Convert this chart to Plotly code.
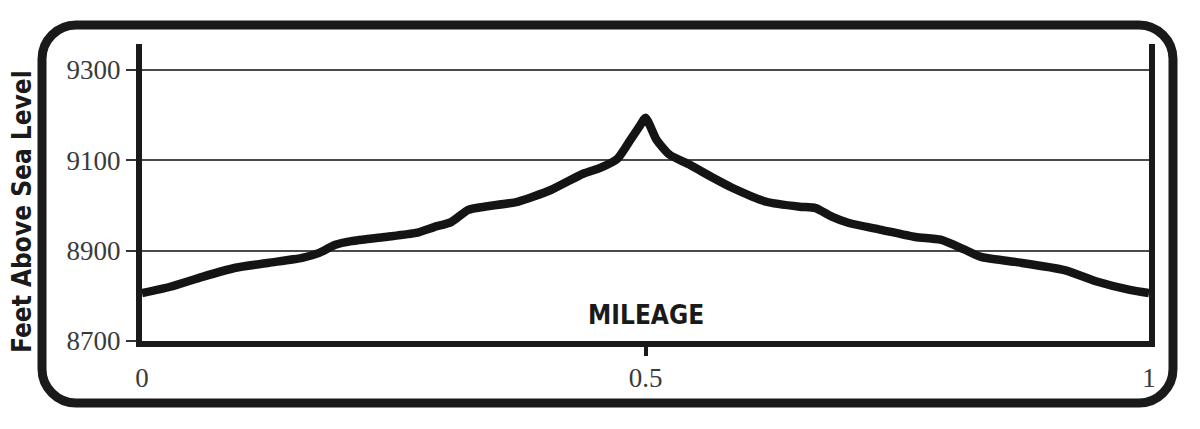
import plotly.graph_objects as go

# ---- data ----
mileage = [0.000, 0.028, 0.060, 0.093, 0.126, 0.159, 0.176, 0.192, 0.208, 0.241,
           0.272, 0.290, 0.307, 0.324, 0.340, 0.373, 0.406, 0.438, 0.455, 0.472,
           0.485, 0.495, 0.500, 0.511, 0.524, 0.544, 0.567, 0.586, 0.620, 0.653,
           0.669, 0.685, 0.702, 0.734, 0.768, 0.793, 0.817, 0.833, 0.867, 0.916,
           0.949, 0.981, 1.000]
elevation = [8806, 8820, 8842, 8862, 8873, 8884, 8895, 8913, 8921, 8930,
             8939, 8952, 8963, 8990, 8997, 9008, 9034, 9070, 9083, 9103,
             9145, 9178, 9194, 9145, 9112, 9090, 9061, 9039, 9008, 8997,
             8994, 8975, 8961, 8946, 8930, 8924, 8902, 8886, 8875, 8857,
             8831, 8813, 8806]

y_ticks = [8700, 8900, 9100, 9300]
y_tick_labels = ["8700", "8900", "9100", "9300"]
x_ticks = [0, 0.5, 1]
x_tick_labels = ["0", "0.5", "1"]

y_title = "Feet Above Sea Level"
x_title = "MILEAGE"

# ---- layout geometry (screen pixels; page body has an 8px margin) ----
W, H = 1200, 429
OFF = 8
PL, PR, PT, PB = 142, 1149, 44, 341          # plot area on screen
L, T = PL - OFF, PT - OFF
R, B = W + OFF - PR, H + OFF - PB
PW = PR - PL
PH = PB - PT


def px(xp):
    return (xp - PL) / PW


def py(yp):
    return (PB - yp) / PH


fig = go.Figure()
fig.add_trace(go.Scatter(
    x=mileage, y=elevation, mode="lines",
    line=dict(color="#141414", width=8.5, shape="spline", smoothing=0.6),
    hoverinfo="skip", showlegend=False,
))
# helper trace on second x axis for the single 0.5 tick
fig.add_trace(go.Scatter(x=[0.5], y=[8700], xaxis="x2", mode="markers",
                         marker=dict(opacity=0), hoverinfo="skip", showlegend=False))

# rounded frame
fl, fr, ft, fb, rad = 42, 1173, 25, 403, 34
k = 0.45


def P(a, b):
    return f"{px(a):.5f},{py(b):.5f}"


path = (
    f"M {P(fl + rad, ft)} L {P(fr - rad, ft)} "
    f"C {P(fr - rad * k, ft)} {P(fr, ft + rad * k)} {P(fr, ft + rad)} "
    f"L {P(fr, fb - rad)} "
    f"C {P(fr, fb - rad * k)} {P(fr - rad * k, fb)} {P(fr - rad, fb)} "
    f"L {P(fl + rad, fb)} "
    f"C {P(fl + rad * k, fb)} {P(fl, fb - rad * k)} {P(fl, fb - rad)} "
    f"L {P(fl, ft + rad)} "
    f"C {P(fl, ft + rad * k)} {P(fl + rad * k, ft)} {P(fl + rad, ft)} Z"
)
fig.add_shape(type="path", path=path, xref="paper", yref="paper",
              line=dict(color="#1a1a1a", width=9), fillcolor="rgba(0,0,0,0)",
              layer="below")

serif = dict(family="Liberation Serif", size=27, color="#3a3a3a")
heavy = "DejaVu Sans Condensed, DejaVu Sans, Liberation Sans, sans-serif"

fig.update_layout(
    width=W, height=H,
    margin=dict(l=L, r=R, t=T, b=B, pad=0),
    paper_bgcolor="white", plot_bgcolor="white",
    xaxis=dict(
        range=[0, 1], tickmode="array", tickvals=x_ticks, ticktext=x_tick_labels,
        ticks="", showgrid=False, zeroline=False,
        showline=True, linewidth=6, linecolor="#1a1a1a",
        tickfont=serif, ticklabelstandoff=8, fixedrange=True,
    ),
    xaxis2=dict(
        range=[0, 1], overlaying="x", side="bottom", tickmode="array",
        tickvals=[0.5], ticks="outside", ticklen=14, tickwidth=4,
        tickcolor="#1a1a1a", showticklabels=False, showgrid=False,
        zeroline=False, showline=False,
    ),
    yaxis=dict(
        range=[8700, 9357], tickmode="array", tickvals=y_ticks, ticktext=y_tick_labels,
        ticks="outside", ticklen=10, tickwidth=1.5, tickcolor="#333333",
        showgrid=True, gridcolor="#4a4a4a", gridwidth=1.5, zeroline=False,
        showline=True, mirror=True, linewidth=6, linecolor="#1a1a1a",
        tickfont=serif, fixedrange=True,
    ),
    annotations=[
        dict(text=y_title, xref="paper", yref="paper", x=px(22), y=py(212),
             textangle=-90, showarrow=False, xanchor="center", yanchor="middle",
             font=dict(family=heavy, size=26, color="#1a1a1a", weight="bold")),
        dict(text=x_title, xref="x", yref="paper", x=0.5, y=py(315),
             showarrow=False, xanchor="center", yanchor="middle",
             font=dict(family=heavy, size=26, color="#1a1a1a", weight="bold")),
    ],
)

fig.write_html("out.html")
